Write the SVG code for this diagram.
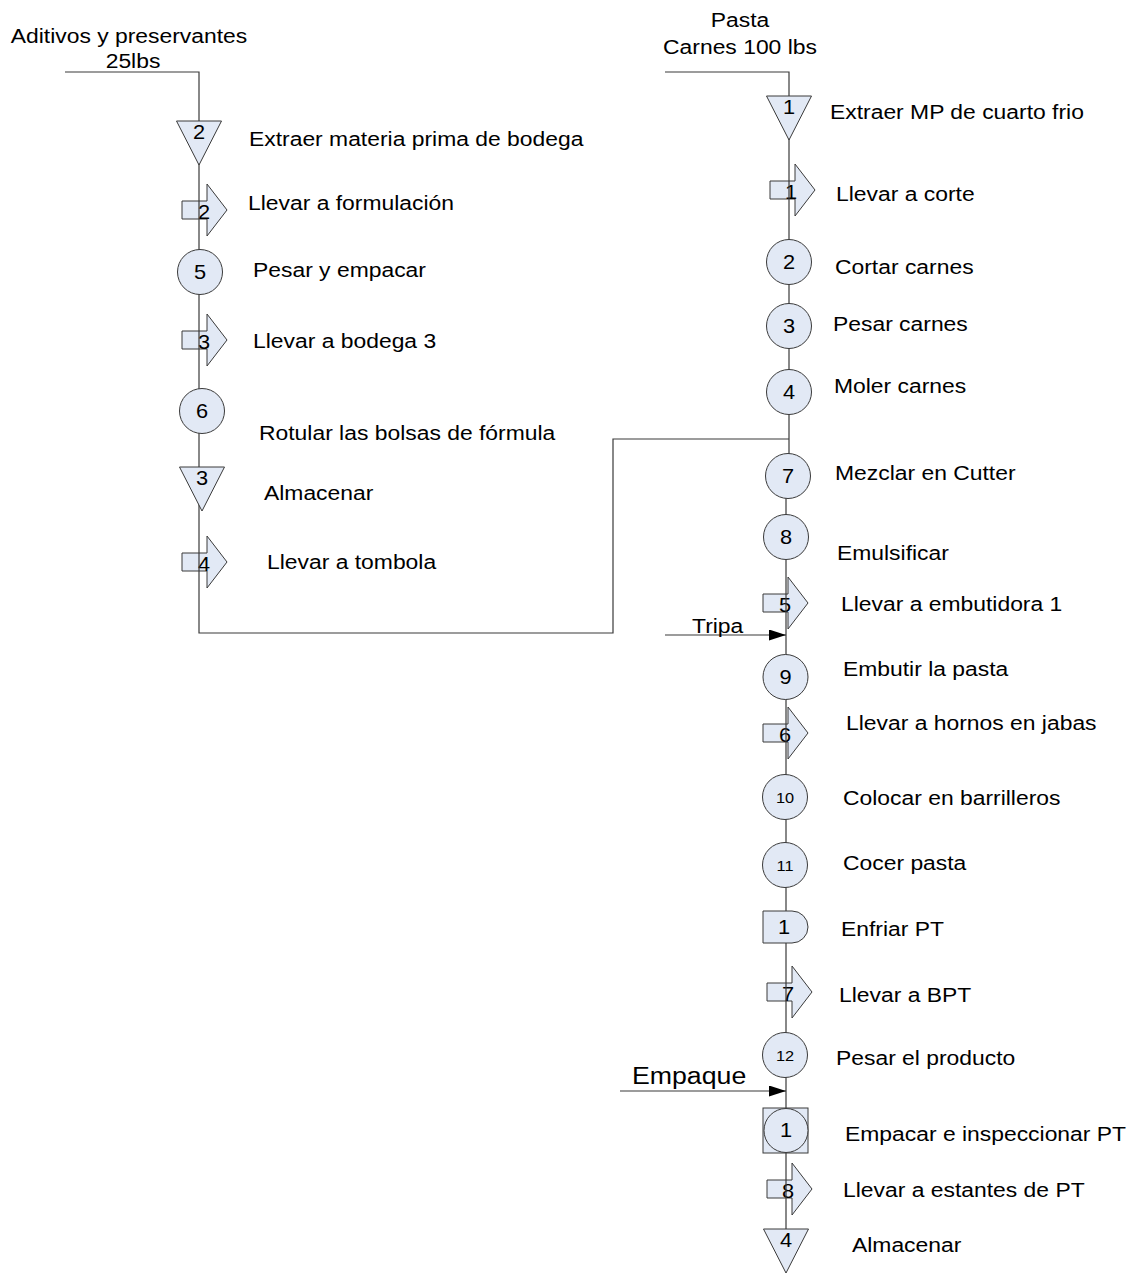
<svg xmlns="http://www.w3.org/2000/svg" xmlns:xlink="http://www.w3.org/1999/xlink" width="1133" height="1273" viewBox="0 0 1133 1273">
  <style>
    .shape { fill: #e2e9f5; stroke: #3a3a3a; stroke-width: 1; }
    .line { fill: none; stroke: #3a3a3a; stroke-width: 1.2; }
    .lbl { font-family: "Liberation Sans", Arial, sans-serif; font-size: 21px; fill: #000; }
    .big { font-family: "Liberation Sans", Arial, sans-serif; font-size: 24.5px; fill: #000; }
    .num { font-family: "Liberation Sans", Arial, sans-serif; font-size: 20px; fill: #000; text-anchor: middle; }
    .sm { font-family: "Liberation Sans", Arial, sans-serif; font-size: 15px; fill: #000; text-anchor: middle; }
    .mid { text-anchor: middle; }
  </style>
  <defs>
    <!-- transport: origin at the base of the head, vertical centre -->
    <path id="transport" d="M-25,-9 H0 V-26 L20,0 L0,26 V9 H-25 Z"/>
    <!-- storage triangle: origin at top centre -->
    <path id="storage" d="M-22.5,0 H22.5 L0,44 Z"/>
    <marker id="head" markerWidth="17" markerHeight="11" refX="17" refY="5.5" orient="auto" markerUnits="userSpaceOnUse">
      <path d="M0,0 L17,5.5 L0,11 Z" fill="#000"/>
    </marker>
  </defs>
  <rect width="1133" height="1273" fill="#fff"/>

  <!-- transport steps (the flow line runs over them) -->
  <g id="t2"><use href="#transport" class="shape" x="207" y="210"/><text class="num" transform="translate(204 219) scale(1.09 1)">2</text></g>
  <g id="t3"><use href="#transport" class="shape" x="207" y="340"/><text class="num" transform="translate(204 349) scale(1.09 1)">3</text></g>
  <g id="t4"><use href="#transport" class="shape" x="207" y="562"/><text class="num" transform="translate(204 571) scale(1.09 1)">4</text></g>
  <g id="t1"><use href="#transport" class="shape" x="795" y="190"/><text class="num" transform="translate(791 199) scale(1.09 1)">1</text></g>
  <g id="t5"><use href="#transport" class="shape" x="788" y="603"/><text class="num" transform="translate(785 612) scale(1.09 1)">5</text></g>
  <g id="t6"><use href="#transport" class="shape" x="788" y="733"/><text class="num" transform="translate(785 742) scale(1.09 1)">6</text></g>
  <g id="t7"><use href="#transport" class="shape" x="792" y="992"/><text class="num" transform="translate(788 1001) scale(1.09 1)">7</text></g>
  <g id="t8"><use href="#transport" class="shape" x="792" y="1189"/><text class="num" transform="translate(788 1198) scale(1.09 1)">8</text></g>

  <!-- flow lines -->
  <g id="connectors">
    <path class="line" d="M65,72 H199 V633 H613 V439 H789"/>
    <path class="line" d="M665,72 H789 V476 M786,476 V1240"/>
    <path class="line" d="M665,635 H786" marker-end="url(#head)"/>
    <path class="line" d="M620,1091 H786" marker-end="url(#head)"/>
  </g>

  <!-- storage -->
  <g id="s2"><use href="#storage" class="shape" x="199" y="121"/><text class="num" transform="translate(199 139) scale(1.09 1)">2</text></g>
  <g id="s1"><use href="#storage" class="shape" x="789" y="96"/><text class="num" transform="translate(789 114) scale(1.09 1)">1</text></g>
  <g id="s3"><use href="#storage" class="shape" x="202" y="467"/><text class="num" transform="translate(202 485) scale(1.09 1)">3</text></g>
  <g id="s4"><use href="#storage" class="shape" x="786" y="1229"/><text class="num" transform="translate(786 1247) scale(1.09 1)">4</text></g>

  <!-- operations -->
  <g id="o5"><circle class="shape" cx="200" cy="272" r="22.5"/><text class="num" transform="translate(200 279) scale(1.09 1)">5</text></g>
  <g id="o6"><circle class="shape" cx="202" cy="411" r="22.5"/><text class="num" transform="translate(202 418) scale(1.09 1)">6</text></g>
  <g id="o2"><circle class="shape" cx="789" cy="262" r="22.5"/><text class="num" transform="translate(789 269) scale(1.09 1)">2</text></g>
  <g id="o3"><circle class="shape" cx="789" cy="326" r="22.5"/><text class="num" transform="translate(789 333) scale(1.09 1)">3</text></g>
  <g id="o4"><circle class="shape" cx="789" cy="392" r="22.5"/><text class="num" transform="translate(789 399) scale(1.09 1)">4</text></g>
  <g id="o7"><circle class="shape" cx="788" cy="476" r="22.5"/><text class="num" transform="translate(788 483) scale(1.09 1)">7</text></g>
  <g id="o8"><circle class="shape" cx="786" cy="537" r="22.5"/><text class="num" transform="translate(786 544) scale(1.09 1)">8</text></g>
  <g id="o9"><circle class="shape" cx="785.5" cy="677" r="22.5"/><text class="num" transform="translate(785.5 684) scale(1.09 1)">9</text></g>
  <g id="o10"><circle class="shape" cx="785" cy="797" r="22.5"/><text class="sm" transform="translate(785 802.5) scale(1.09 1)">10</text></g>
  <g id="o11"><circle class="shape" cx="785" cy="865" r="22.5"/><text class="sm" transform="translate(785 870.5) scale(1.09 1)">11</text></g>
  <g id="o12"><circle class="shape" cx="785" cy="1055" r="22.5"/><text class="sm" transform="translate(785 1060.5) scale(1.09 1)">12</text></g>

  <!-- delay -->
  <g id="d1"><path class="shape" d="M763,911 H792 A16,16 0 0 1 792,943 H763 Z"/><text class="num" transform="translate(784 934) scale(1.09 1)">1</text></g>

  <!-- combined operation / inspection -->
  <g id="c1"><rect class="shape" x="763" y="1108" width="45" height="45"/><circle class="shape" cx="786" cy="1130.5" r="22"/><text class="num" transform="translate(786 1137) scale(1.09 1)">1</text></g>

  <!-- inputs -->
  <g id="in-aditivos">
    <text class="lbl mid" transform="translate(129 43) scale(1.09 1)">Aditivos y preservantes</text>
    <text class="lbl mid" transform="translate(133 68) scale(1.09 1)">25lbs</text>
  </g>
  <g id="in-pasta">
    <text class="lbl mid" transform="translate(740 27) scale(1.09 1)">Pasta</text>
    <text class="lbl mid" transform="translate(740 54) scale(1.09 1)">Carnes 100 lbs</text>
  </g>
  <g id="in-tripa"><text class="lbl" transform="translate(692 633) scale(1.09 1)">Tripa</text></g>
  <g id="in-empaque"><text class="big" transform="translate(632 1084) scale(1.09 1)">Empaque</text></g>

  <!-- step descriptions -->
  <g id="labels">
    <text class="lbl" transform="translate(249 146) scale(1.09 1)">Extraer materia prima de bodega</text>
    <text class="lbl" transform="translate(248 210) scale(1.09 1)">Llevar a formulación</text>
    <text class="lbl" transform="translate(253 277) scale(1.09 1)">Pesar y empacar</text>
    <text class="lbl" transform="translate(253 348) scale(1.09 1)">Llevar a bodega 3</text>
    <text class="lbl" transform="translate(259 440) scale(1.09 1)">Rotular las bolsas de fórmula</text>
    <text class="lbl" transform="translate(264 500) scale(1.09 1)">Almacenar</text>
    <text class="lbl" transform="translate(267 569) scale(1.09 1)">Llevar a tombola</text>

    <text class="lbl" transform="translate(830 119) scale(1.09 1)">Extraer MP de cuarto frio</text>
    <text class="lbl" transform="translate(836 201) scale(1.09 1)">Llevar a corte</text>
    <text class="lbl" transform="translate(835 274) scale(1.09 1)">Cortar carnes</text>
    <text class="lbl" transform="translate(833 331) scale(1.09 1)">Pesar carnes</text>
    <text class="lbl" transform="translate(834 393) scale(1.09 1)">Moler carnes</text>
    <text class="lbl" transform="translate(835 480) scale(1.09 1)">Mezclar en Cutter</text>
    <text class="lbl" transform="translate(837 560) scale(1.09 1)">Emulsificar</text>
    <text class="lbl" transform="translate(841 611) scale(1.09 1)">Llevar a embutidora 1</text>
    <text class="lbl" transform="translate(843 676) scale(1.09 1)">Embutir la pasta</text>
    <text class="lbl" transform="translate(846 730) scale(1.09 1)">Llevar a hornos en jabas</text>
    <text class="lbl" transform="translate(843 805) scale(1.09 1)">Colocar en barrilleros</text>
    <text class="lbl" transform="translate(843 870) scale(1.09 1)">Cocer pasta</text>
    <text class="lbl" transform="translate(841 936) scale(1.09 1)">Enfriar PT</text>
    <text class="lbl" transform="translate(839 1002) scale(1.09 1)">Llevar a BPT</text>
    <text class="lbl" transform="translate(836 1065) scale(1.09 1)">Pesar el producto</text>
    <text class="lbl" transform="translate(845 1141) scale(1.09 1)">Empacar e inspeccionar PT</text>
    <text class="lbl" transform="translate(843 1197) scale(1.09 1)">Llevar a estantes de PT</text>
    <text class="lbl" transform="translate(852 1252) scale(1.09 1)">Almacenar</text>
  </g>
</svg>
